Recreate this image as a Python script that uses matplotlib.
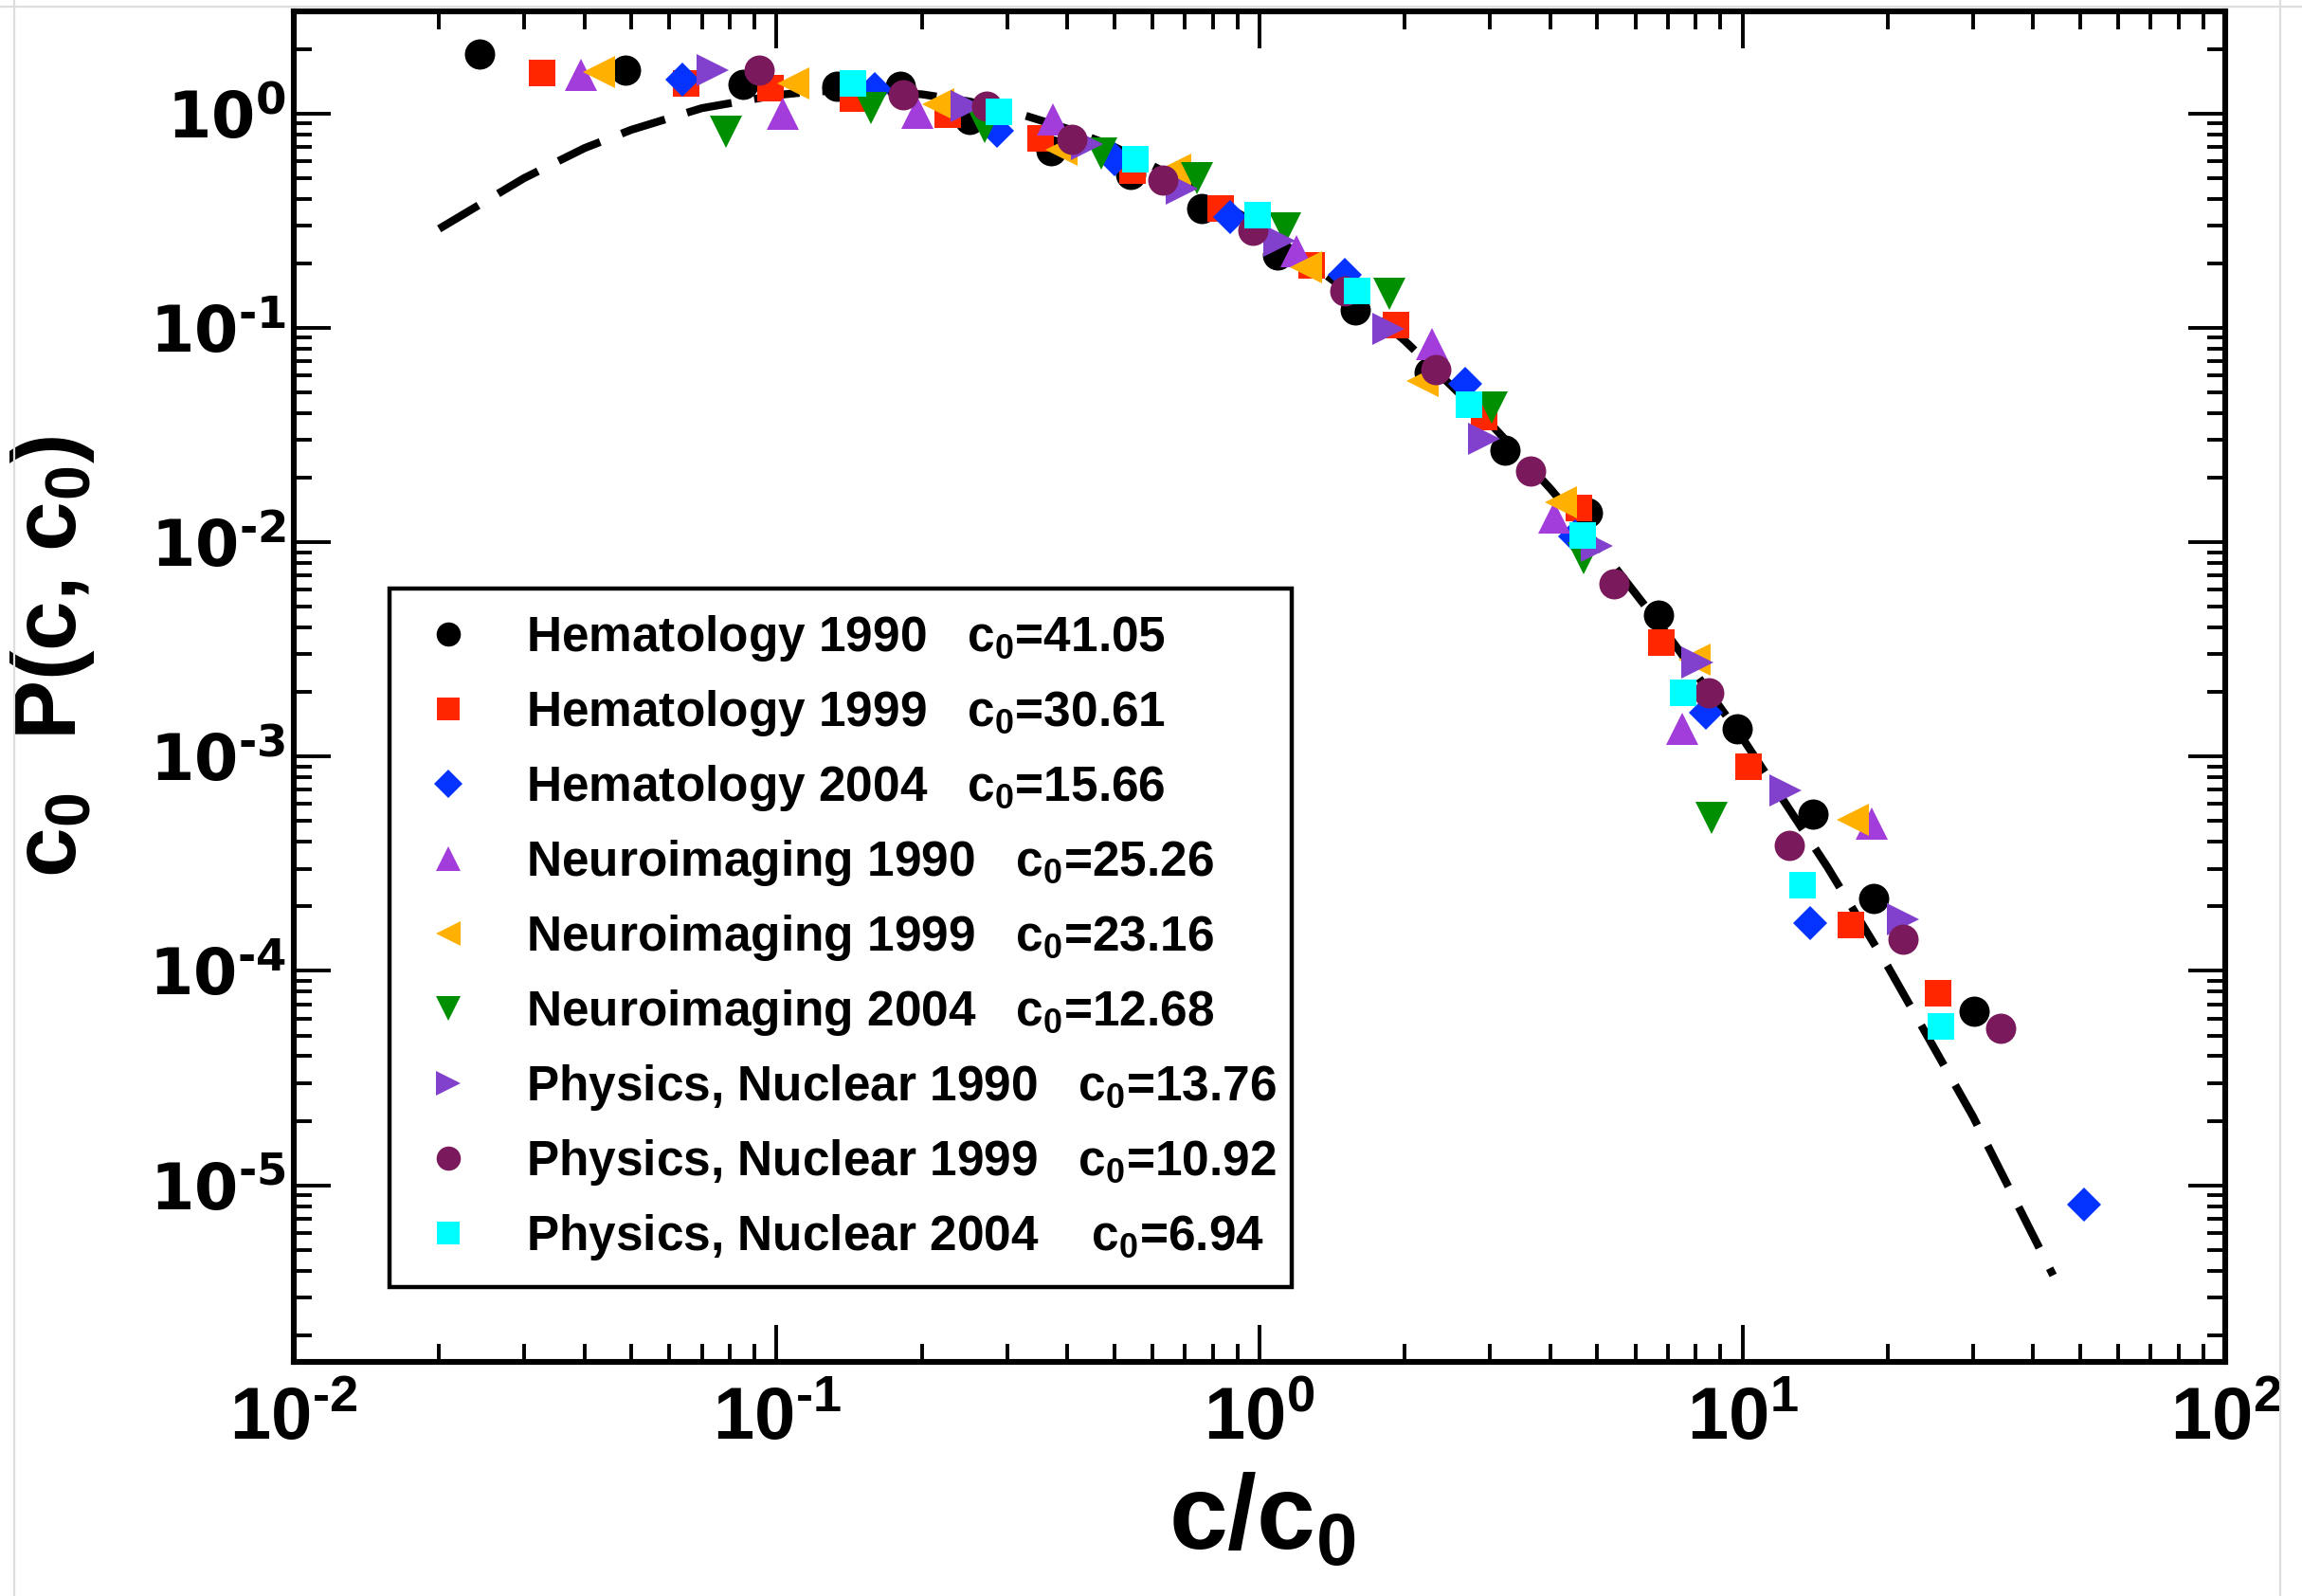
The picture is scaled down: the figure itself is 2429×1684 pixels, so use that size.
import numpy as np
import matplotlib
matplotlib.use("Agg")
import matplotlib.pyplot as plt
from matplotlib import font_manager
from matplotlib.ticker import LogLocator, NullFormatter, FuncFormatter

## =============================================================================
##  Data:  x = c/c0 ,  y = c0 P(c, c0)
## =============================================================================

hem90_x = [0.0243, 0.0486, 0.0851, 0.133, 0.180, 0.251, 0.37, 0.54, 0.76, 1.09,
           1.58, 2.25, 3.23, 4.77, 6.70, 9.77, 14.0, 18.7, 30.2]
hem90_y = [1.90, 1.59, 1.37, 1.34, 1.34, 0.94, 0.67, 0.52, 0.359, 0.22,
           0.121, 0.062, 0.0269, 0.0137, 0.00456, 0.00135, 5.4e-4, 2.17e-4, 6.5e-5]

hem99_x = [0.0327, 0.0649, 0.0973, 0.144, 0.226, 0.352, 0.546, 0.832, 1.28, 1.92,
           2.92, 4.59, 6.80, 10.3, 16.8, 25.4]
hem99_y = [1.55, 1.39, 1.32, 1.18, 0.99, 0.77, 0.54, 0.359, 0.195, 0.103,
           0.0384, 0.0144, 0.00342, 8.98e-4, 1.63e-4, 7.85e-5]

hem04_x = [0.0638, 0.160, 0.286, 0.50, 0.87, 1.50, 2.67, 4.5, 8.39, 13.8, 51.0]
hem04_y = [1.44, 1.30, 0.83, 0.61, 0.33, 0.176, 0.0548, 0.0106, 0.0016, 1.68e-4, 8.1e-6]

neu90_x = [0.0394, 0.103, 0.196, 0.374, 1.19, 2.28, 4.07, 7.50, 18.5]
neu90_y = [1.51, 1.00, 1.01, 0.94, 0.227, 0.084, 0.0130, 0.00135, 4.88e-4]

neu99_x = [0.0428, 0.108, 0.216, 0.389, 0.67, 1.25, 2.18, 4.20, 7.96, 16.9]
neu99_y = [1.56, 1.39, 1.10, 0.68, 0.55, 0.192, 0.0567, 0.0154, 0.00284, 5.05e-4]

neu04_x = [0.0787, 0.157, 0.27, 0.471, 0.743, 1.13, 1.86, 3.03, 4.70, 8.65]
neu04_y = [0.822, 1.06, 0.87, 0.65, 0.50, 0.29, 0.144, 0.0425, 0.0084, 5.2e-4]

phy90_x = [0.0736, 0.247, 0.44, 0.689, 1.10, 1.85, 2.92, 4.99, 8.08, 12.3, 21.5]
phy90_y = [1.59, 1.08, 0.72, 0.447, 0.255, 0.099, 0.0303, 0.0096, 0.00274, 6.97e-4, 1.74e-4]

phy99_x = [0.0918, 0.183, 0.272, 0.408, 0.63, 0.97, 1.50, 2.32, 3.64, 5.42,
           8.51, 12.5, 21.5, 34.3]
phy99_y = [1.59, 1.23, 1.08, 0.755, 0.49, 0.284, 0.149, 0.0638, 0.0216, 0.0064,
           0.00199, 3.85e-4, 1.40e-4, 5.4e-5]

phy04_x = [0.144, 0.288, 0.553, 0.99, 1.59, 2.71, 4.67, 7.55, 13.3, 25.8]
phy04_y = [1.39, 1.02, 0.61, 0.335, 0.149, 0.044, 0.0108, 0.00199, 2.52e-4, 5.5e-5]

## dashed reference curve
fit_x = [0.02, 0.03, 0.04, 0.05, 0.07, 0.1, 0.12, 0.15, 0.2, 0.25, 0.3, 0.4, 0.5,
         0.7, 1.0, 1.5, 2.0, 3.0, 4.0, 5.0, 7.0, 10.0, 15.0, 20.0, 30.0, 44.0]
fit_y = [0.29, 0.50, 0.69, 0.84, 1.06, 1.22, 1.27, 1.28, 1.23, 1.14, 1.04, 0.85, 0.70,
         0.48, 0.30, 0.152, 0.087, 0.036, 0.0178, 0.0098, 0.0037, 0.00122, 3.05e-4,
         1.05e-4, 2.1e-5, 3.8e-6]

labels = ["Hematology 1990   c$_0$=41.05",
          "Hematology 1999   c$_0$=30.61",
          "Hematology 2004   c$_0$=15.66",
          "Neuroimaging 1990   c$_0$=25.26",
          "Neuroimaging 1999   c$_0$=23.16",
          "Neuroimaging 2004   c$_0$=12.68",
          "Physics, Nuclear 1990   c$_0$=13.76",
          "Physics, Nuclear 1999   c$_0$=10.92",
          "Physics, Nuclear 2004    c$_0$=6.94"]

## =============================================================================
##  Plot
## =============================================================================

plt.rcParams["mathtext.default"] = "regular"


def decade_label(v, pos):
    # 10^n with a short hyphen in the exponent, as in the original
    e = int(round(np.log10(v)))
    return "10$^{%s}$" % str(e).replace("-", "\u2010")


fig = plt.figure(figsize=(12.145, 8.42), dpi=200)
ax = fig.add_axes([0.1276, 0.1467, 0.8391, 0.8462])

# reference curve below the points
ax.plot(fit_x, fit_y, color="black", lw=3.0, dashes=(5.8, 2.9), zorder=2)

series = [
    (hem90_x, hem90_y, "o", "#000000", 11.5),
    (hem99_x, hem99_y, "s", "#FF2600", 10.4),
    (hem04_x, hem04_y, "D", "#0433FF", 9.3),
    (neu90_x, neu90_y, "^", "#A23CDB", 12.0),
    (neu99_x, neu99_y, "<", "#FFB000", 12.0),
    (neu04_x, neu04_y, "v", "#008F00", 12.0),
    (phy90_x, phy90_y, ">", "#8241CC", 12.0),
    (phy99_x, phy99_y, "o", "#7A1A5C", 11.5),
    (phy04_x, phy04_y, "s", "#00FDFF", 10.4),
]
for (xs, ys, m, c, ms), lab in zip(series, labels):
    ax.plot(xs, ys, ls="none", marker=m, ms=ms, color=c, mec=c, mew=0,
            label=lab, zorder=3)

ax.set_xscale("log")
ax.set_yscale("log")
ax.set_xlim(1e-2, 1e2)
ax.set_ylim(1.5e-6, 3)

ax.set_xticks([1e-2, 1e-1, 1, 1e1, 1e2])
ax.set_yticks([1e-5, 1e-4, 1e-3, 1e-2, 1e-1, 1])
ax.xaxis.set_major_formatter(FuncFormatter(decade_label))
ax.yaxis.set_major_formatter(FuncFormatter(decade_label))
ax.xaxis.set_minor_locator(LogLocator(base=10, subs=np.arange(2, 10), numticks=20))
ax.yaxis.set_minor_locator(LogLocator(base=10, subs=np.arange(2, 10), numticks=20))
ax.xaxis.set_minor_formatter(NullFormatter())
ax.yaxis.set_minor_formatter(NullFormatter())

ax.tick_params(which="both", direction="in", top=True, right=True, width=1.4)
ax.tick_params(which="major", length=14)
ax.tick_params(which="minor", length=7)
ax.tick_params(axis="x", pad=9)
ax.tick_params(axis="y", pad=3)
for s in ax.spines.values():
    s.set_linewidth(2.2)

xfp = font_manager.FontProperties(family="Liberation Sans", weight="bold", size=28)
yfp = font_manager.FontProperties(family="DejaVu Sans", weight="bold", size=24)
for t in ax.get_xticklabels():
    t.set_fontproperties(xfp)
for t in ax.get_yticklabels():
    t.set_fontproperties(yfp)

ax.set_xlabel("c/c$_0$", fontproperties=font_manager.FontProperties(
    family="Liberation Sans", weight="bold", size=40))
ax.xaxis.set_label_coords(0.5015, -0.082)
ax.set_ylabel("c$_0$  P(c, c$_0$)", fontproperties=font_manager.FontProperties(
    family="Liberation Sans", weight="bold", size=34))
ax.yaxis.set_label_coords(-0.102, 0.522)

leg = ax.legend(loc="lower left", bbox_to_anchor=(0.0494, 0.0554, 0.4673, 0.5153),
                mode="expand", borderaxespad=0, fancybox=False, framealpha=1,
                edgecolor="black", markerscale=0.8, handlelength=1.41,
                handletextpad=0.89, borderpad=0.5, labelspacing=0.507,
                prop=font_manager.FontProperties(family="Liberation Sans",
                                                 weight="bold", size=18.5))
leg.get_frame().set_linewidth(1.6)

# faint screenshot border
for x in (0.0062, 0.9905):
    fig.add_artist(plt.Line2D([x, x], [0, 1], color="#dddddd", lw=0.8))
fig.add_artist(plt.Line2D([0, 1], [0.996, 0.996], color="#dddddd", lw=0.8))

fig.savefig("out.png", dpi=200)
plt.close(fig)
